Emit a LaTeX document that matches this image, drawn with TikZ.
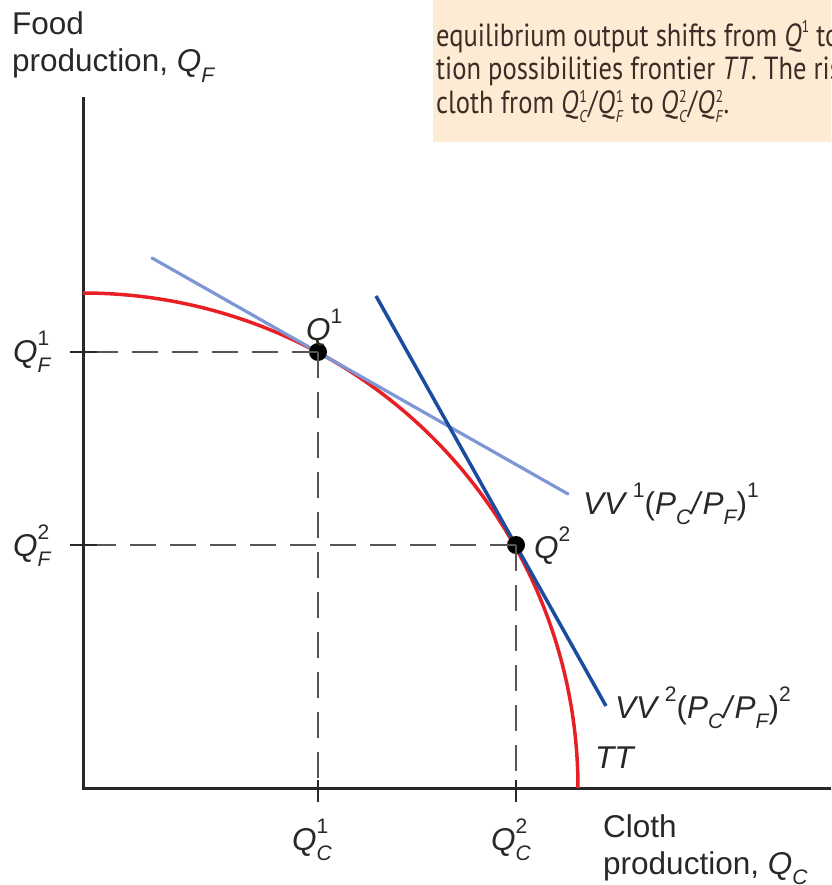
\documentclass[tikz,border=0pt]{standalone}
\usepackage{fontspec}
\setmainfont{Liberation Sans}
\newfontfamily\capfont[FakeStretch=0.83]{PT Sans}
\definecolor{capbg}{RGB}{253,236,211}
\definecolor{captxt}{RGB}{62,44,40}
\definecolor{axisgray}{RGB}{40,40,40}
\definecolor{dashgray}{RGB}{85,85,85}
\definecolor{ttred}{RGB}{232,32,38}
\definecolor{vvlight}{RGB}{125,150,212}
\definecolor{vvdark}{RGB}{28,76,160}
\newcommand\idx{\fontsize{21}{21}\selectfont}
\newcommand\Qsi[2]{\textit{Q}\rlap{\raisebox{.52em}{\idx #1}}\raisebox{-.32em}{\idx\itshape #2}}
\newcommand\csz{\fontsize{17}{17}\selectfont}
\newcommand\Qcap[2]{\textit{Q}\kern1pt\relax\rlap{\raisebox{.36em}{\csz #1}}\raisebox{-.26em}{\csz\itshape #2}\kern1pt\relax}
\begin{document}
\begin{tikzpicture}[x=1pt,y=-1pt,
  lbl/.style={font=\fontsize{31.5}{37}\selectfont, text=axisgray, inner sep=0pt, anchor=base west, align=left},
  captext/.style={font=\capfont\fontsize{32}{33}\selectfont, text=captxt, inner sep=0pt, anchor=base west},
  axisline/.style={draw=axisgray, line width=3pt},
  tick/.style={draw=axisgray, line width=2pt},
  dashline/.style={draw=dashgray, line width=2.2pt, dash pattern=on 26pt off 14pt},
  frontier/.style={draw=ttred, line width=3.5pt},
  vvone/.style={draw=vvlight, line width=3.2pt},
  vvtwo/.style={draw=vvdark, line width=3.5pt},
  dot/.style={circle, fill=black, inner sep=0pt, minimum size=18pt}]
\useasboundingbox (0,0) rectangle (831,885);
% caption box
\begin{scope}
\clip (0,0) rectangle (831,885);
\fill[capbg] (433,0) rectangle (845,142);
\node[captext] (c1) at (436,47) {equilibrium output shifts from \textit{Q}\raisebox{.45em}{\csz 1} to};
\node[captext] (c2) at (436,80) {tion possibilities frontier \textit{TT}. The rise};
\node[captext] (c3) at (436,114) {cloth from \Qcap{1}{C}/\Qcap{1}{F} to \Qcap{2}{C}/\Qcap{2}{F}.};
\end{scope}
% axes
\coordinate (O) at (83,788);
\coordinate (ytop) at (83,97);
\coordinate (xend) at (831,788);
\draw[axisline] (ytop) -- (O) -- (xend);
% frontier
\draw[frontier] plot[domain=0:90,samples=150] ({83+495*cos(\x)},{788-495*sin(\x)});
% tangent lines
\coordinate (v1a) at (152,258);
\coordinate (v1b) at (568,494);
\coordinate (v2a) at (376,296);
\coordinate (v2b) at (606,706);
\draw[vvone, line cap=round] (v1a) -- (v1b);
\draw[vvtwo] (v2a) -- (v2b);
% points
\node[dot] (q1) at (318,352) {};
\node[dot] (q2) at (516,545) {};
% dashed guides
\draw[dashline] (q1.center) -- (q1.center -| O);
\draw[dashline] (q1.center) -- (q1.center |- O);
\draw[dashline] (q2.center) -- (q2.center -| O);
\draw[dashline] (q2.center) -- (q2.center |- O);
% ticks
\draw[tick] (70,352) -- (97,352);
\draw[tick] (70,545) -- (97,545);
\draw[tick] (318,780) -- (318,802);
\draw[tick] (516,780) -- (516,802);
% labels
\node[lbl] (ylab) at (12,72) {Food\\production, \textit{Q}\raisebox{-.32em}{\idx\itshape F}};
\node[lbl] (qf1) at (13,362) {\Qsi{1}{F}};
\node[lbl] (qf2) at (13,556) {\Qsi{2}{F}};
\node[lbl] (qc1) at (292,850) {\Qsi{1}{C}};
\node[lbl] (qc2) at (491,850) {\Qsi{2}{C}};
\node[lbl] (xlab) at (603,874) {Cloth\\production, \textit{Q}\raisebox{-.32em}{\idx\itshape C}};
\node[lbl] (lq1) at (306,340) {\textit{Q}\raisebox{.52em}{\idx 1}};
\node[lbl] (lq2) at (534,558) {\textit{Q}\raisebox{.52em}{\idx 2}};
\node[lbl] (lv1) at (583,514) {\textit{VV}\,\raisebox{.52em}{\idx 1}(\textit{P}\raisebox{-.32em}{\idx\itshape C}\textit{/}\textit{P}\raisebox{-.32em}{\idx\itshape F})\raisebox{.52em}{\idx 1}};
\node[lbl] (lv2) at (615,718) {\textit{VV}\,\raisebox{.52em}{\idx 2}(\textit{P}\raisebox{-.32em}{\idx\itshape C}\textit{/}\textit{P}\raisebox{-.32em}{\idx\itshape F})\raisebox{.52em}{\idx 2}};
\node[lbl] (ltt) at (595,768) {\textit{TT}};
\end{tikzpicture}
\end{document}
